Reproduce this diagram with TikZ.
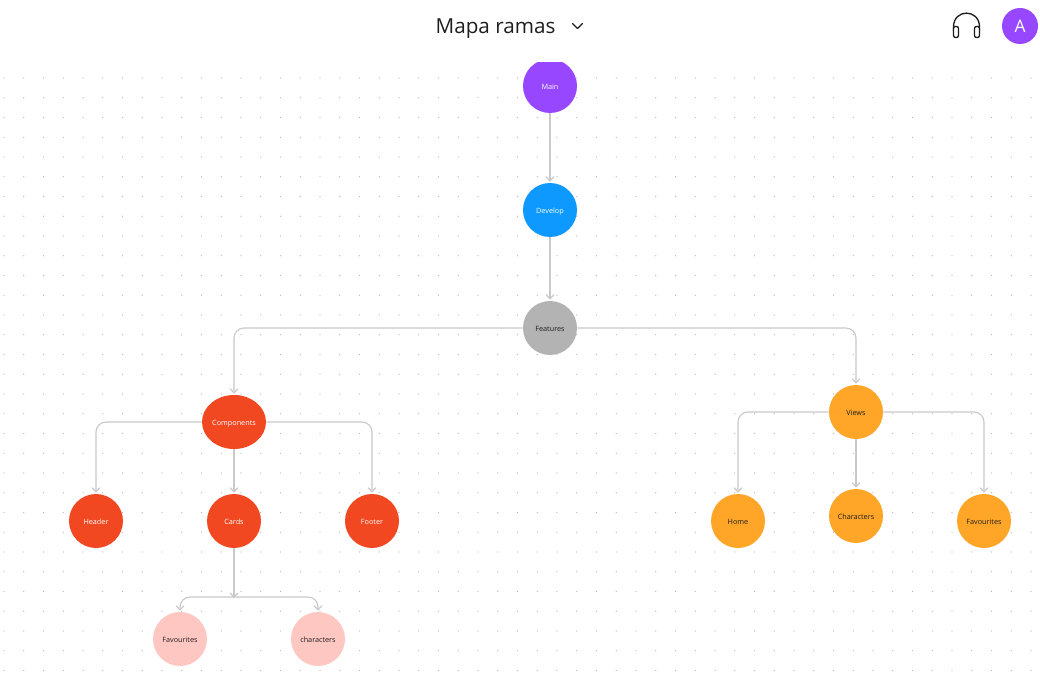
\documentclass[tikz,border=0pt]{standalone}
\usepackage{fontspec}
\setmainfont{Open Sans}
\usetikzlibrary{positioning,calc,arrows.meta,shapes.geometric}
\definecolor{mainpurple}{HTML}{9747FF}
\definecolor{devblue}{HTML}{0D99FF}
\definecolor{featgrey}{HTML}{B3B3B3}
\definecolor{compred}{HTML}{F24822}
\definecolor{vieworange}{HTML}{FFA629}
\definecolor{cardpink}{HTML}{FFC7C2}
\definecolor{linegrey}{HTML}{C9C9C9}
\definecolor{dotgrey}{HTML}{B4B4B4}
\definecolor{inkdark}{HTML}{1E1E1E}

\begin{document}
\begin{tikzpicture}[x=0.75pt,y=-0.75pt,
                branch/.style={->,>={Straight Barb[length=3.2pt,width=6pt]},shorten >=0.75pt,
                    draw=linegrey,line width=0.85pt,rounded corners=7.5pt},
                main node/.style={circle,minimum size=40.5pt,inner sep=0pt,text height=5pt,text depth=0pt,
                    font=\fontsize{5.45}{7}\selectfont},
                light node/.style={main node,text=white},
                dark node/.style={main node,text=inkdark}]
\useasboundingbox (0,0) rectangle (1040,685);
\fill[white] (0,0) rectangle (1040,685);
%Dots
\foreach \i in {0,...,52}
    \foreach \j in {0,...,30}
        \fill[dotgrey] ({4+19.75*\i},{78+19.75*\j}) circle (0.55pt);
%Nodes
    \node[light node,fill=mainpurple] (main) at (550,86) {Main};
    \node[light node,fill=devblue] (develop) at (550,210) {Develop};
    \node[dark node,fill=featgrey] (features) at (550,328) {Features};
    \node[light node,fill=compred,shape=ellipse,minimum width=48pt,minimum height=40.5pt,inner xsep=-4pt] (components) at (234,422) {Components};
    \node[dark node,fill=vieworange] (views) at (856,412) {Views};
    \node[light node,fill=compred] (header) at (96,521) {Header};
    \node[light node,fill=compred] (cards) at (234,521) {Cards};
    \node[light node,fill=compred] (footer) at (372,521) {Footer};
    \node[dark node,fill=vieworange] (home) at (738,521) {Home};
    \node[dark node,fill=vieworange] (characters) at (856,516) {Characters};
    \node[dark node,fill=vieworange] (favourites) at (984,521) {Favourites};
    \node[dark node,fill=cardpink] (favcards) at (180,639) {Favourites};
    \node[dark node,fill=cardpink] (charcards) at (318,639) {characters};
    \coordinate (fork) at (234,597);
    \coordinate (forktip) at (234,599);
%Lines
    \draw[branch] (main) -- (develop);
    \draw[branch] (develop) -- (features);
    \draw[branch] (features) -| (components);
    \draw[branch] (features) -| (views);
    \draw[branch] (components) -| (header);
    \draw[branch] (components) -- (cards);
    \draw[branch] (components) -| (footer);
    \draw[branch] (views) -| (home);
    \draw[branch] (views) -- (characters);
    \draw[branch] (views) -| (favourites);
    \draw[branch] (cards) -- (forktip);
    \draw[branch] (fork) -| (favcards);
    \draw[branch] (fork) -| (charcards);
%Top bar
    \fill[white] (0,0) rectangle (1040,62);
    \node[text=inkdark,font=\fontsize{15.5}{18}\selectfont] (title) at (495.5,29) {Mapa ramas};
    \node[circle,fill=mainpurple,text=white,minimum size=27pt,inner sep=0pt,font=\fontsize{13}{15}\selectfont] (avatar) at (1020,26) {A};
    \draw[inkdark,line width=1pt,line cap=round,line join=round] (572.5,23.5) -- (577.5,28.5) -- (582.5,23.5);
%Headphones
    \draw[inkdark,line width=1pt] (953.5,31) -- (953.5,27) .. controls (953.5,8.5) and (979.5,8.5) .. (979.5,27) -- (979.5,31);
    \draw[inkdark,line width=1pt,fill=white,rounded corners=1.5pt] (953.5,26.5) rectangle (958.5,37.5);
    \draw[inkdark,line width=1pt,fill=white,rounded corners=1.5pt] (974.5,26.5) rectangle (979.5,37.5);
\end{tikzpicture}
\end{document}
